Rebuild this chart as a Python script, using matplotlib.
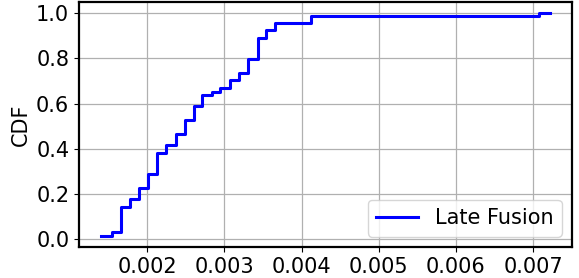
"""
CDF of latency for the late fusion method.
"""
import matplotlib
matplotlib.use('Agg')
import matplotlib.pyplot as plt

# step edges (seconds) and the CDF level held between each pair of edges
edges = [0.001405, 0.001541, 0.00166, 0.001776, 0.001897, 0.002013,
         0.002124, 0.002248, 0.002368, 0.002484, 0.002605, 0.002712,
         0.002837, 0.002947, 0.003072, 0.003192, 0.003308, 0.003429,
         0.003544, 0.003655, 0.004127, 0.007081, 0.007216]
cdf = [0.015, 0.034, 0.144, 0.177, 0.226, 0.289, 0.383, 0.417, 0.465,
       0.528, 0.590, 0.639, 0.653, 0.671, 0.705, 0.737, 0.796, 0.892,
       0.926, 0.958, 0.989, 1.0]

label = 'Late Fusion'

fig = plt.figure(figsize=(5.79, 2.78), dpi=100)
ax = fig.add_axes([0.1364, 0.1115, 0.8516, 0.8813])

ax.step(edges, cdf + [cdf[-1]], where='post', color='blue',
        linewidth=2.2, label=label)

ax.set_ylabel('CDF', fontsize=15)
ax.set_yticks([0.0, 0.2, 0.4, 0.6, 0.8, 1.0])
ax.set_xticks([0.002, 0.003, 0.004, 0.005, 0.006, 0.007])
ax.tick_params(labelsize=15)
ax.grid(True, color='#b0b0b0', linewidth=0.9)
for s in ax.spines.values():
    s.set_linewidth(1.6)

ax.legend(loc='lower right', fontsize=15)

fig.savefig('out.png', dpi=100)
